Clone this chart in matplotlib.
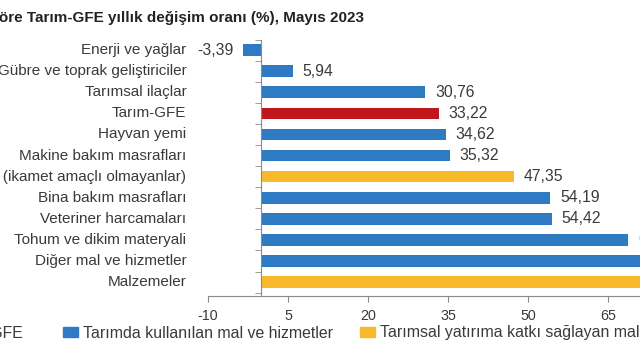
import matplotlib
matplotlib.use("Agg")
import matplotlib.pyplot as plt
from matplotlib.patches import Patch

plt.rcParams['font.family'] = ['Liberation Sans', 'DejaVu Sans']

# data (top to bottom as in the chart)
categories = ['Enerji ve yağlar', 'Gübre ve toprak geliştiriciler', 'Tarımsal ilaçlar',
              'Tarım-GFE', 'Hayvan yemi', 'Makine bakım masrafları',
              'Diğer binalar (ikamet amaçlı olmayanlar)', 'Bina bakım masrafları',
              'Veteriner harcamaları', 'Tohum ve dikim materyali',
              'Diğer mal ve hizmetler', 'Malzemeler']
values = [-3.39, 5.94, 30.76, 33.22, 34.62, 35.32, 47.35, 54.19, 54.42, 68.84, 74.90, 82.40]
groups = ['u', 'u', 'u', 'g', 'u', 'u', 'y', 'u', 'u', 'u', 'u', 'y']
xticks = [-10, 5, 20, 35, 50, 65, 80, 95]
legend_labels = ['Tarım-GFE', 'Tarımda kullanılan mal ve hizmetler',
                 'Tarımsal yatırıma katkı sağlayan mal ve hizmetler']

colors = {'g': '#C0171C', 'u': '#2E7BC4', 'y': '#F8B92A'}
txt = '#3a3a3a'
axc = '#8a8a8a'

fig = plt.figure(figsize=(6.4, 3.6), dpi=100)
ax = fig.add_axes([208 / 640, 1 - 296 / 360, 560 / 640, 256.5 / 360])

n = len(categories)
ypos = [n - 1 - i for i in range(n)]
ax.barh(ypos, values, height=0.55, color=[colors[g] for g in groups])

for y, v, c in zip(ypos, values, categories):
    s = f'{v:.2f}'.replace('.', ',')
    if v < 0:
        ax.annotate(s, (v, y), xytext=(-7, 0), textcoords='offset points',
                    ha='right', va='center', fontsize=11.3, color=txt)
    else:
        ax.annotate(s, (v, y), xytext=(7, 0), textcoords='offset points',
                    ha='left', va='center', fontsize=11.3, color=txt)
    ax.annotate(c, (0, y), xycoords=('axes fraction', 'data'), xytext=(-15.5, 0),
                textcoords='offset points', ha='right', va='center',
                fontsize=11, color=txt)

ax.set_xlim(-10, 95)
ax.set_ylim(-0.66, n - 0.5)
ax.set_xticks(xticks)
ax.set_xticklabels([str(t) for t in xticks])
ax.tick_params(axis='x', length=4, color=axc, labelsize=10.3, labelcolor=txt, pad=5)
ax.set_yticks([])
ax.set_yticks([k + 0.5 for k in range(-1, n)], minor=True)
ax.tick_params(axis='y', which='minor', length=4, color=axc)
ax.spines['left'].set_position(('data', 0))
for s in ['left', 'bottom']:
    ax.spines[s].set_color(axc)
ax.spines['top'].set_visible(False)
ax.spines['right'].set_visible(False)

fig.text(364 / 640, 1 - 18 / 360,
         'Ana gruplara göre Tarım-GFE yıllık değişim oranı (%), Mayıs 2023',
         ha='right', va='center', fontsize=11, fontweight='bold', color='#222222')

# legend entries placed side by side
spots = [(23, 'center right'), (63, 'center left'), (360, 'center left')]
for (x0, loc), lab, g in zip(spots, legend_labels, ['g', 'u', 'y']):
    fig.legend(handles=[Patch(color=colors[g], label=lab)], loc=loc,
               bbox_to_anchor=(x0 / 640, 1 - 333 / 360), frameon=False,
               fontsize=11.4, handlelength=0.95, handleheight=0.6,
               handletextpad=0.3, borderpad=0, borderaxespad=0, labelcolor=txt)

fig.savefig('out.png', dpi=100)
